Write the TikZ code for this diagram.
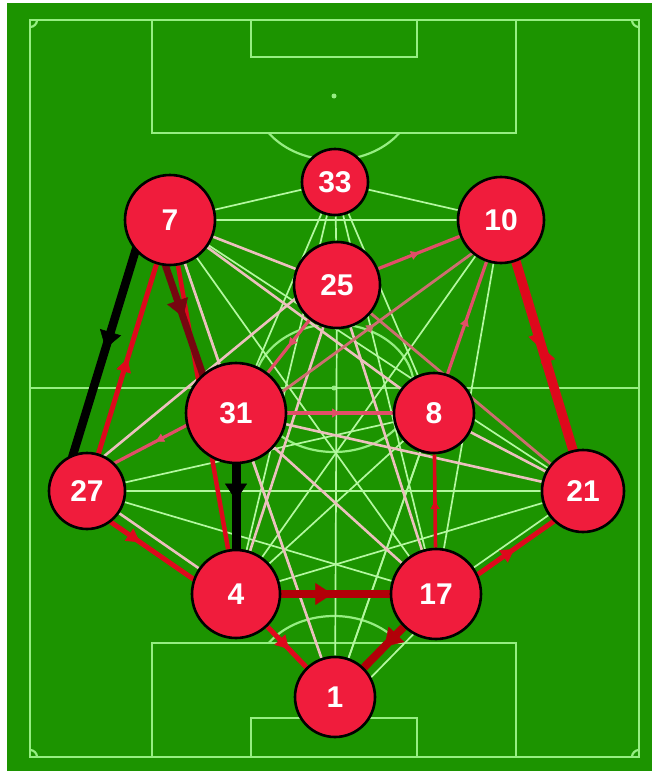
\documentclass[tikz,border=0pt]{standalone}
\usepackage{fontspec}
\setmainfont{Liberation Sans}
\usetikzlibrary{calc,arrows.meta,decorations.markings}
\pgfdeclarelayer{pitch}
\pgfdeclarelayer{edges}
\pgfsetlayers{pitch,edges,main}
\definecolor{grass}{RGB}{28,148,0}
\definecolor{chalk}{RGB}{150,238,130}
\definecolor{nodered}{RGB}{240,28,60}
\definecolor{ered}{RGB}{222,8,28}
\definecolor{edark}{RGB}{178,0,8}
\definecolor{emaroon}{RGB}{118,6,16}
\definecolor{epink}{RGB}{226,78,104}
\definecolor{esalmon}{RGB}{205,110,112}
\definecolor{epale}{RGB}{236,192,190}
\definecolor{egreen}{RGB}{180,248,160}
\tikzset{
  player/.style={circle, draw=black, line width=2.6pt, fill=nodered, text=white,
    inner sep=0pt, font=\fontsize{30}{30}\selectfont\bfseries},
  chalkline/.style={draw=chalk, line width=2.2pt},
  gline/.style={draw=egreen, line width=1.7pt},
  pline/.style={draw=epale, line width=2.6pt},
  sline/.style={draw=esalmon, line width=2.8pt},
  mline/.style={draw=epink, line width=3.2pt},
  rline/.style={draw=ered, line width=5pt},
  dline/.style={draw=edark, line width=8pt},
  maroonline/.style={draw=emaroon, line width=7pt},
  kline/.style={draw=black, line width=8.5pt},
  bigarrow/.style={decoration={markings, mark=at position #1 with {\arrow{Triangle[length=17pt,width=22pt,line width=0.5pt]}}}, postaction={decorate}},
  bigarrow/.default=0.5,
  midarrowhead/.style={decoration={markings, mark=at position #1 with {\arrow{Triangle[length=13pt,width=15pt,line width=0.5pt]}}}, postaction={decorate}},
  midarrowhead/.default=0.5,
  smallarrow/.style={decoration={markings, mark=at position #1 with {\arrow{Triangle[length=8pt,width=9pt,line width=0.5pt]}}}, postaction={decorate}},
  smallarrow/.default=0.5,
}
\begin{document}
\begin{tikzpicture}[x=1pt,y=-1pt]
\useasboundingbox (0,0) rectangle (652,771);

% ---------- players ----------
\node[player, minimum size=66pt]  (n33) at (335,182) {33};
\node[player, minimum size=90pt]  (n7)  at (170,220) {7};
\node[player, minimum size=86pt]  (n10) at (501,220) {10};
\node[player, minimum size=86pt]  (n25) at (337,285) {25};
\node[player, minimum size=100pt] (n31) at (236,413) {31};
\node[player, minimum size=80pt]  (n8)  at (434,413) {8};
\node[player, minimum size=76pt]  (n27) at (87,491)  {27};
\node[player, minimum size=82pt]  (n21) at (583,491) {21};
\node[player, minimum size=88pt]  (n4)  at (236,594) {4};
\node[player, minimum size=90pt]  (n17) at (436,594) {17};
\node[player, minimum size=80pt]  (n1)  at (335,697) {1};

% ---------- pitch ----------
\begin{pgfonlayer}{pitch}
\fill[white] (0,0) rectangle (652,771);
\fill[grass] (7,3) rectangle (652,771);
\draw[chalkline] (30,20) rectangle (639,757);
\draw[chalkline] (30,388) -- (639,388);
\draw[chalkline] (152,20) rectangle (516,133);
\draw[chalkline] (251,20) rectangle (417,57);
\draw[chalkline] (152,643) rectangle (516,757);
\draw[chalkline] (251,718) rectangle (417,757);
\fill[chalk] (334,96) circle[radius=2.5pt];
\fill[chalk] (334,680) circle[radius=2.5pt];
\fill[chalk] (334,388) circle[radius=2.5pt];
\draw[chalkline] (334,388) ellipse[x radius=80pt, y radius=64pt];
\begin{scope}
  \clip (0,133) rectangle (652,300);
  \draw[chalkline] (334,96) ellipse[x radius=80pt, y radius=64pt];
\end{scope}
\begin{scope}
  \clip (0,500) rectangle (652,643);
  \draw[chalkline] (334,680) ellipse[x radius=80pt, y radius=64pt];
\end{scope}
\begin{scope}
  \clip (30,20) rectangle (639,757);
  \draw[chalkline] (30,20) circle[radius=7pt];
  \draw[chalkline] (639,20) circle[radius=7pt];
  \draw[chalkline] (30,757) circle[radius=7pt];
  \draw[chalkline] (639,757) circle[radius=7pt];
\end{scope}
\end{pgfonlayer}

% ---------- passes ----------
\begin{pgfonlayer}{edges}
% light green (few passes)
\draw[gline] (n7) -- (n33);
\draw[gline] (n33) -- (n10);
\draw[gline] (n7) -- (n10);
\draw[gline] (n33) -- (n25);
\draw[gline] (n33) -- (n31);
\draw[gline] (n33) -- (n8);
\draw[gline] (n33) -- (n4);
\draw[gline] (n33) -- (n17);
\draw[gline] (n7) -- (n17);
\draw[gline] (n7) -- (n21);
\draw[gline] (n7) -- (n1);
\draw[gline] (n10) -- (n4);
\draw[gline] (n10) -- (n17);
\draw[gline] (n10) -- (n1);
\draw[gline] (n27) -- (n21);
\draw[gline] (n27) -- (n8);
\draw[gline] (n25) -- (n1);
\draw[gline] (n8) -- (n4);
\draw[gline] (n8) -- (n1);
\draw[gline] (n21) -- (n17);
\draw[gline] (n4) -- (n21);
\draw[gline] (n27) -- (n17);
\draw[gline] ($(n1)!12pt!-90:(n17)$) -- ($(n17)!12pt!90:(n1)$);
% pale pink
\draw[pline] (n7) -- (n25);
\draw[pline] (n7) -- (n8);
\draw[pline] (n31) -- (n7);
\draw[pline] (n4) -- (n27);
\draw[pline] (n31) -- (n21);
\draw[pline] (n8) -- (n21);
\draw[pline] ($(n27)!16pt!90:(n25)$) -- ($(n25)!16pt!-90:(n27)$);
\draw[pline] (n31) -- (n17);
\draw[pline] (n25) -- (n4);
\draw[pline] (n25) -- (n17);
\draw[pline] (n31) -- (n1);
% salmon
\draw[sline] (n25) -- (n21);
\draw[sline, smallarrow] ($(n31)!10pt!-90:(n10)$) -- ($(n10)!10pt!90:(n31)$);
% medium pink
\draw[mline, smallarrow] (n25) -- (n10);
\draw[mline, smallarrow] (n8) -- (n10);
\draw[mline, smallarrow] (n31) -- (n8);
\draw[mline, smallarrow] (n25) -- (n31);
\draw[mline, smallarrow] ($(n31)!12pt!-90:(n27)$) -- ($(n27)!12pt!90:(n31)$);
\draw[draw=ered, line width=3.6pt, smallarrow] (n17) -- (n8);
% red
\draw[draw=ered, line width=4.5pt] (n7) -- (n4);
\draw[rline, midarrowhead] (n27) -- (n7);
\draw[rline, midarrowhead=0.4] ($(n27)!12pt!-90:(n4)$) -- ($(n4)!12pt!90:(n27)$);
\draw[rline, midarrowhead] ($(n17)!8pt!-90:(n21)$) -- ($(n21)!8pt!90:(n17)$);
\draw[rline, midarrowhead=0.55] (n4) -- (n1);
\draw[rline, line width=5pt, midarrowhead=0.45] (n10) -- (n21);
\draw[rline, line width=6pt, midarrowhead=0.52] ($(n21)!4pt!-90:(n10)$) -- ($(n10)!4pt!90:(n21)$);
% dark red
\draw[maroonline, bigarrow=0.47] ($(n7)!19pt!-90:(n31)$) -- ($(n31)!19pt!90:(n7)$);
\draw[dline, bigarrow=0.47] (n4) -- (n17);
\draw[dline, bigarrow=0.48] (n17) -- (n1);
% black
\draw[kline, bigarrow] ($(n7)!24pt!-90:(n27)$) -- ($(n27)!24pt!90:(n7)$);
\draw[kline, line width=9pt, bigarrow=0.43] (n31) -- (n4);
\end{pgfonlayer}
\end{tikzpicture}
\end{document}
